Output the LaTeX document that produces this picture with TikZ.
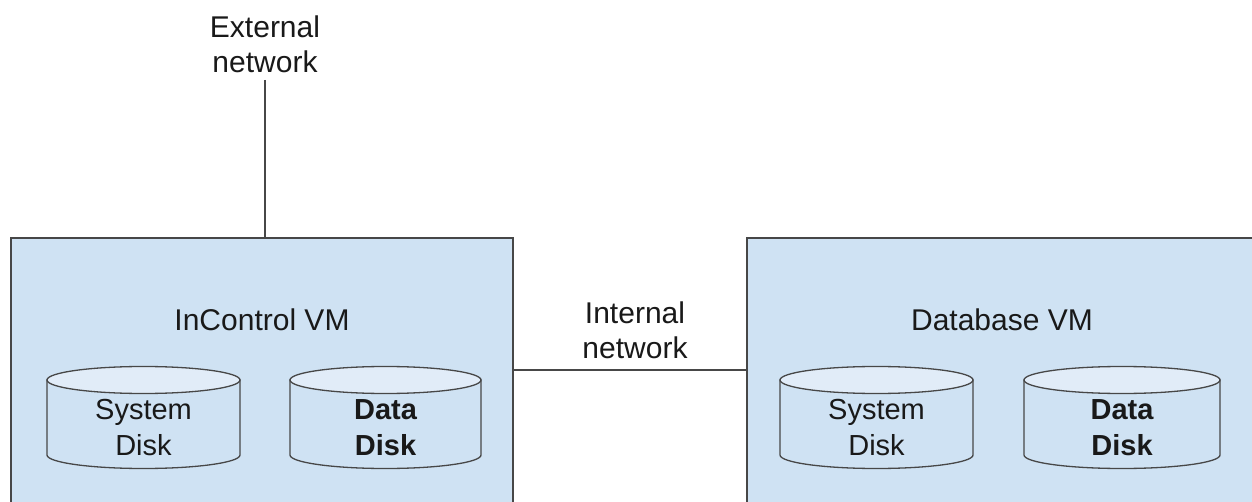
\documentclass[tikz,border=0pt]{standalone}
\usepackage{fontspec}
\setmainfont{Liberation Sans}
\definecolor{vmfill}{HTML}{CFE2F3}
\definecolor{topfill}{HTML}{E1ECF8}
\definecolor{edge}{HTML}{474747}
\begin{document}
\begin{tikzpicture}[x=1pt,y=-1pt,
  vmbox/.style={draw=edge,line width=1.8pt,fill=vmfill,inner sep=0pt},
  lbl/.style={align=center,font=\fontsize{30}{35}\selectfont,text=black!90,inner sep=0pt},
  disktxt/.style={align=center,font=\fontsize{29}{36}\selectfont,text=black!90,inner sep=0pt},
  wire/.style={draw=edge,line width=1.5pt},
  disk/.style={draw=edge,line width=1.3pt}]
\useasboundingbox (0,0) rectangle (1252,502);
\clip (0,0) rectangle (1252,502);
\fill[white] (0,0) rectangle (1252,502);
% VM boxes
\node[vmbox,minimum width=502pt,minimum height=290pt] (icvm) at (262,383) {};
\node[vmbox,minimum width=530pt,minimum height=290pt] (dbvm) at (1012,383) {};
% titles
\node[lbl] (ictitle) at (262,320) {InControl VM};
\node[lbl] (dbtitle) at (1002,320) {Database VM};
% external network
\node[lbl] (ext) at (265,44) {External\\network};
\coordinate (extend) at (265,80);
\draw[wire] (extend) -- (icvm.north -| extend);
% internal network
\node[lbl] (int) at (635,330) {Internal\\network};
\coordinate (ia) at (icvm.east |- 0,370);
\coordinate (ib) at (dbvm.west |- 0,370);
\draw[wire] (ia) -- (ib);
% disks
\newcommand{\drawdisk}[2]{% left x, right x
  \begin{scope}
  \pgfmathsetmacro{\cx}{(#1+#2)/2}
  \pgfmathsetmacro{\rx}{(#2-#1)/2}
  \path[disk,fill=vmfill] (#1,380) -- (#1,455) arc[start angle=180,end angle=360,x radius=\rx pt,y radius=13.5pt] -- (#2,380) -- cycle;
  \path[disk,fill=topfill] (\cx,380) ellipse[x radius=\rx pt,y radius=13.5pt];
  \end{scope}}
\drawdisk{47}{240}
\drawdisk{290}{481}
\drawdisk{780}{973}
\drawdisk{1024}{1220}
\node[disktxt] (sd1) at (143.5,428) {System\\Disk};
\node[disktxt] (dd1) at (385.5,428) {\bfseries Data\\\bfseries Disk};
\node[disktxt] (sd2) at (876.5,428) {System\\Disk};
\node[disktxt] (dd2) at (1122,428) {\bfseries Data\\\bfseries Disk};
\end{tikzpicture}
\end{document}
